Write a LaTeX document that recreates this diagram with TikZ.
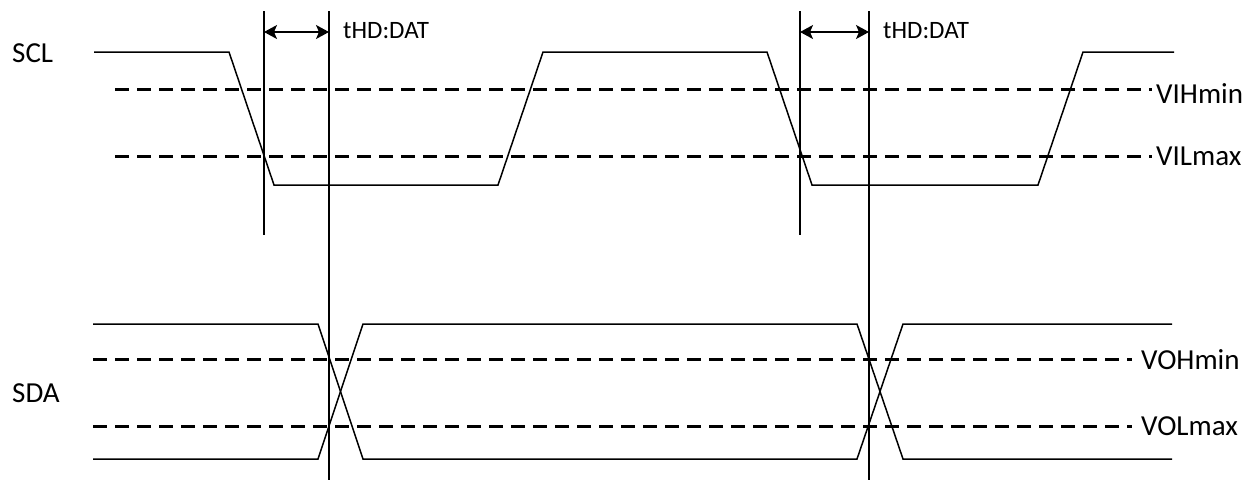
\documentclass[tikz,border=0pt]{standalone}
\usepackage{fontspec}
\setmainfont{Carlito}
\usetikzlibrary{arrows.meta, positioning, calc}
\tikzset{
    signal line/.style={line width=1.5pt, black, line join=miter},
    level line/.style={line width=3pt, black, dash pattern=on 14pt off 8pt},
    marker line/.style={line width=1.3pt, black},
    dim arrow/.style={{Stealth[length=13pt, width=14pt, inset=3pt]}-{Stealth[length=13pt, width=14pt, inset=3pt]}, line width=1.3pt, black},
    sig label/.style={inner sep=0pt, anchor=base west, font=\fontsize{29}{33}\selectfont},
    time label/.style={inner sep=0pt, anchor=base west, font=\fontsize{25}{29}\selectfont},
}

\begin{document}
\begin{tikzpicture}[x=1pt, y=-1pt]
    \useasboundingbox (0,0) rectangle (1249,480);

    % signal names
    \node[sig label] (scl) at (12,62) {SCL};
    \node[sig label] (sda) at (12,402) {SDA};

    % threshold levels
    \node[sig label] (vih) at (1156,103) {VIHmin};
    \node[sig label] (vil) at (1156,165) {VILmax};
    \node[sig label] (voh) at (1141,369) {VOHmin};
    \node[sig label] (vol) at (1141,435) {VOLmax};
    \coordinate (vihS) at (115,89);
    \coordinate (vilS) at (115,156);
    \coordinate (vohS) at (93,359);
    \coordinate (volS) at (93,426);
    \draw[level line] (vihS) -- (vihS -| 1152,0);
    \draw[level line] (vilS) -- (vilS -| 1152,0);
    \draw[level line] (vohS) -- (vohS -| 1132,0);
    \draw[level line] (volS) -- (volS -| 1132,0);

    % SCL
    \draw[signal line] (94,52) -- (229,52) -- (274,185) -- (498,185) -- (543,52)
        -- (767,52) -- (812,185) -- (1038,185) -- (1083,52) -- (1174,52);

    % SDA (both states)
    \draw[signal line] (93,324) -- (318,324) -- (363,459) -- (857,459) -- (903,324) -- (1172,324);
    \draw[signal line] (93,459) -- (318,459) -- (363,324) -- (857,324) -- (903,459) -- (1172,459);

    % hold time markers
    \foreach \xa/\xb/\n in {264/329/1, 800/869/2} {
        \coordinate (ta\n) at (\xa,11);
        \coordinate (tb\n) at (\xb,11);
        \draw[marker line] (ta\n) -- (\xa,235);
        \draw[marker line] (tb\n) -- (\xb,480);
        \draw[dim arrow] (\xa,32) -- (\xb,32);
        \node[time label] (thd\n) at (\xb+14,38) {tHD:DAT};
    }
\end{tikzpicture}
\end{document}
